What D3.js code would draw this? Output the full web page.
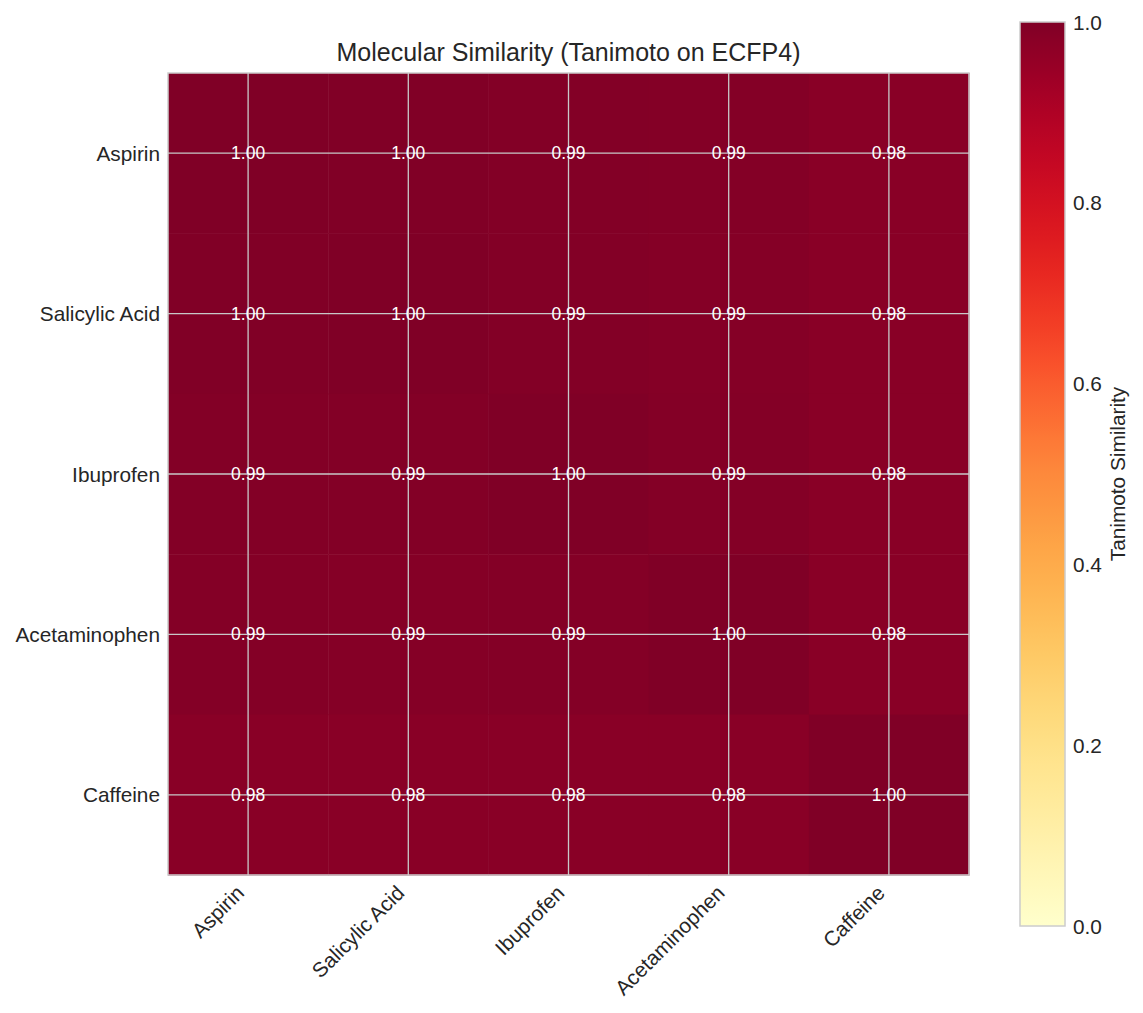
<!DOCTYPE html>
<html><head><meta charset="utf-8">
<script src="https://cdn.jsdelivr.net/npm/d3@7"></script>
<style>body{margin:0;background:#fff;} text{font-family:"Liberation Sans",Arial,sans-serif;}</style>
</head><body>
<svg id="c" width="1143" height="1013"></svg>
<script>
const molecules = ["Aspirin","Salicylic Acid","Ibuprofen","Acetaminophen","Caffeine"];
const similarity = [
  [1.000, 0.998, 0.993, 0.991, 0.982],
  [0.998, 1.000, 0.993, 0.990, 0.981],
  [0.993, 0.993, 1.000, 0.992, 0.982],
  [0.991, 0.990, 0.992, 1.000, 0.981],
  [0.982, 0.981, 0.982, 0.981, 1.000]
];
const cbTicks = [0.0, 0.2, 0.4, 0.6, 0.8, 1.0];
const title = "Molecular Similarity (Tanimoto on ECFP4)";
const cbLabel = "Tanimoto Similarity";

const svg = d3.select("#c");
const L=168, R=969, T=73, B=875;
const x = d3.scaleBand().domain(molecules).range([L,R]);
const y = d3.scaleBand().domain(molecules).range([T,B]);
const color = d3.scaleSequential(d3.interpolateYlOrRd).domain([0,1]);

const cells = [];
similarity.forEach((row,i)=>row.forEach((v,j)=>cells.push({r:molecules[i],c:molecules[j],v})));

svg.append("g").selectAll("rect").data(cells).join("rect")
  .attr("x",d=>x(d.c)).attr("y",d=>y(d.r))
  .attr("width",x.bandwidth()+0.5).attr("height",y.bandwidth()+0.5)
  .attr("fill",d=>color(d.v));

// grid lines
const g = svg.append("g").attr("stroke","#c8c8c8").attr("stroke-width",1.3);
molecules.forEach(m=>{
  const cx = x(m)+x.bandwidth()/2, cy = y(m)+y.bandwidth()/2;
  g.append("line").attr("x1",cx).attr("x2",cx).attr("y1",T).attr("y2",B);
  g.append("line").attr("y1",cy).attr("y2",cy).attr("x1",L).attr("x2",R);
});

// value text
svg.append("g").selectAll("text").data(cells).join("text")
  .attr("x",d=>x(d.c)+x.bandwidth()/2).attr("y",d=>y(d.r)+y.bandwidth()/2)
  .attr("text-anchor","middle").attr("dominant-baseline","central")
  .attr("fill","#fff").attr("font-size",17.5)
  .text(d=>d.v.toFixed(2));

// frame
svg.append("rect").attr("x",L).attr("y",T).attr("width",R-L).attr("height",B-T)
  .attr("fill","none").attr("stroke","#cccccc").attr("stroke-width",1.5);

// y labels
svg.append("g").selectAll("text").data(molecules).join("text")
  .attr("x",160).attr("y",d=>y(d)+y.bandwidth()/2)
  .attr("text-anchor","end").attr("dominant-baseline","central")
  .attr("fill","#262626").attr("font-size",20.8).text(d=>d);

// x labels
svg.append("g").selectAll("text").data(molecules).join("text")
  .attr("transform",d=>`translate(${x(d)+x.bandwidth()/2-8},${B+14}) rotate(-45)`)
  .attr("text-anchor","end").attr("dominant-baseline","central")
  .attr("fill","#262626").attr("font-size",20.8).text(d=>d);

// title
svg.append("text").attr("x",(L+R)/2).attr("y",52).attr("text-anchor","middle")
  .attr("dominant-baseline","central").attr("fill","#262626").attr("font-size",25).text(title);

// colorbar
const cbX=1020, cbW=45, cbT=22, cbB=926;
const cy = d3.scaleLinear().domain([0,1]).range([cbB,cbT]);
const defs = svg.append("defs");
const grad = defs.append("linearGradient").attr("id","cbg").attr("x1","0").attr("y1","1").attr("x2","0").attr("y2","0");
d3.range(0,1.0001,0.02).forEach(t=>grad.append("stop").attr("offset",t).attr("stop-color",color(t)));
svg.append("rect").attr("x",cbX).attr("y",cbT).attr("width",cbW).attr("height",cbB-cbT)
  .attr("fill","url(#cbg)").attr("stroke","#cccccc").attr("stroke-width",1.5);
svg.append("g").selectAll("text").data(cbTicks).join("text")
  .attr("x",1073).attr("y",d=>cy(d)).attr("dominant-baseline","central")
  .attr("fill","#262626").attr("font-size",20.8).text(d=>d.toFixed(1));
svg.append("text").attr("transform",`translate(1117,${(cbT+cbB)/2}) rotate(-90)`)
  .attr("text-anchor","middle").attr("dominant-baseline","central")
  .attr("fill","#262626").attr("font-size",20.8).text(cbLabel);
</script>
</body></html>
